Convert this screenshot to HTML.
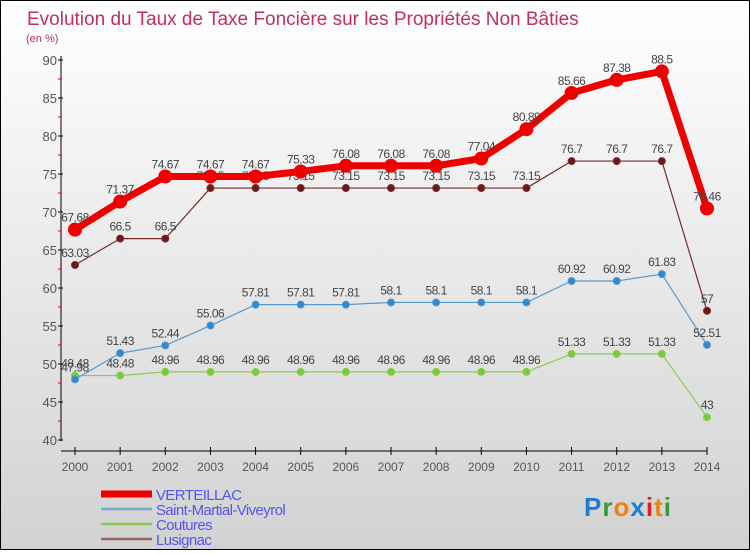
<!DOCTYPE html>
<html><head><meta charset="utf-8">
<style>
html,body{margin:0;padding:0}
body{width:750px;height:550px;overflow:hidden;font-family:"Liberation Sans",sans-serif}
#wrap{position:relative;width:748px;height:548px;border:1px solid #000;background:linear-gradient(#fff,#d2d2d2)}
</style></head><body>
<div id="wrap">
<svg id="chart" width="748" height="548" xmlns="http://www.w3.org/2000/svg">
<text x="26" y="24" font-size="19" fill="#c0305a">Evolution du Taux de Taxe Foncière sur les Propriétés Non Bâties</text>
<text x="25" y="41" font-size="11" fill="#c0305a">(en %)</text>
<g id="axes"></g>
<g id="series"></g>
<g id="legend"></g>
<text x="583" y="515" font-size="26" font-weight="bold" letter-spacing="1"><tspan fill="#1a7fd0">P</tspan><tspan fill="#3a9a3a">r</tspan><tspan fill="#f08010">o</tspan><tspan fill="#1a7fd0">x</tspan><tspan fill="#e02020">i</tspan><tspan fill="#f08010">t</tspan><tspan fill="#3a9a3a">i</tspan></text>
</svg>
</div>
<script>
const years=[2000,2001,2002,2003,2004,2005,2006,2007,2008,2009,2010,2011,2012,2013,2014];
const yTicks=[40,45,50,55,60,65,70,75,80,85,90];
const verteillac=[67.68,71.37,74.67,74.67,74.67,75.33,76.08,76.08,76.08,77.04,80.89,85.66,87.38,88.5,70.46];
const saintMartial=[47.98,51.43,52.44,55.06,57.81,57.81,57.81,58.1,58.1,58.1,58.1,60.92,60.92,61.83,52.51];
const coutures=[48.48,48.48,48.96,48.96,48.96,48.96,48.96,48.96,48.96,48.96,48.96,51.33,51.33,51.33,43];
const lusignac=[63.03,66.5,66.5,73.15,73.15,73.15,73.15,73.15,73.15,73.15,73.15,76.7,76.7,76.7,57];
const NS="http://www.w3.org/2000/svg";
const X=i=>74+i*(706-74)/(years.length-1);
const Y=v=>439-(v-40)*(439-59)/50;
function mk(tag,attrs,parent){const e=document.createElementNS(NS,tag);for(const k in attrs)e.setAttribute(k,attrs[k]);parent.appendChild(e);return e;}
const axes=document.getElementById('axes');
let yl=mk('line',{x1:60,y1:55,x2:60,y2:440,stroke:'#000','stroke-width':1},axes);


yTicks.forEach((t,i)=>{
  mk('line',{x1:57,x2:62,y1:Y(t),y2:Y(t),stroke:'#000'},axes);
  if(i<yTicks.length-1)mk('line',{x1:57,x2:60,y1:Y(t+2.5),y2:Y(t+2.5),stroke:'#d00'},axes);
  const tx=mk('text',{x:56,y:Y(t)+5,'text-anchor':'end','font-size':13,fill:'#555'},axes);
  tx.textContent=t;
  
  
});
let xl=mk('line',{x1:60,y1:450,x2:706,y2:450,stroke:'#000'},axes);


years.forEach((y,i)=>{
  mk('line',{x1:X(i),x2:X(i),y1:446,y2:454,stroke:'#000'},axes);
  const tx=mk('text',{x:X(i),y:470,'text-anchor':'middle','font-size':12,fill:'#555'},axes);
  tx.textContent=y;
  
  
});
const sg=document.getElementById('series');
function series(vals,color,fill,w,r,name){
  const g=mk('g',{},sg);
  
  
  const p=mk('polyline',{points:vals.map((v,i)=>X(i)+','+Y(v)).join(' '),fill:'none',stroke:color,'stroke-width':w,'stroke-linejoin':'round'},g);
  
  
  vals.forEach((v,i)=>{
    const c=mk('circle',{cx:X(i),cy:Y(v),r:r,fill:fill,stroke:color,'stroke-width':1},g);
    
    
    const t=mk('text',{x:X(i),y:Y(v)-8,'text-anchor':'middle','font-size':12,fill:'#444','letter-spacing':'-0.5'},g);
    t.textContent=v;
    
    
  });
}
series(lusignac,'#7a2a2a','#6a1a1a',1.2,3.5,'lusignac');
series(coutures,'#88cc55','#77cc33',1.2,3.5,'coutures');
series(saintMartial,'#5599cc','#3388cc',1.2,3.5,'saint-martial-viveyrol');
series(verteillac,'#ee0000','#ee0000',7,6.5,'verteillac');
const lg=document.getElementById('legend');
[['VERTEILLAC','#ee0000',7],['Saint-Martial-Viveyrol','#77aad0',2.5],['Coutures','#88cc55',2.5],['Lusignac','#996666',2.5]].forEach((d,i)=>{
  const y=493+i*15;
  const l=mk('line',{x1:100,x2:151,y1:y,y2:y,stroke:d[1],'stroke-width':d[2]},lg);
  
  
  const t=mk('text',{x:155,y:y+6,'font-size':15,fill:'#5555ee','letter-spacing':'-0.6'},lg);
  t.textContent=d[0];
  
  
});
</script>
</body></html>
